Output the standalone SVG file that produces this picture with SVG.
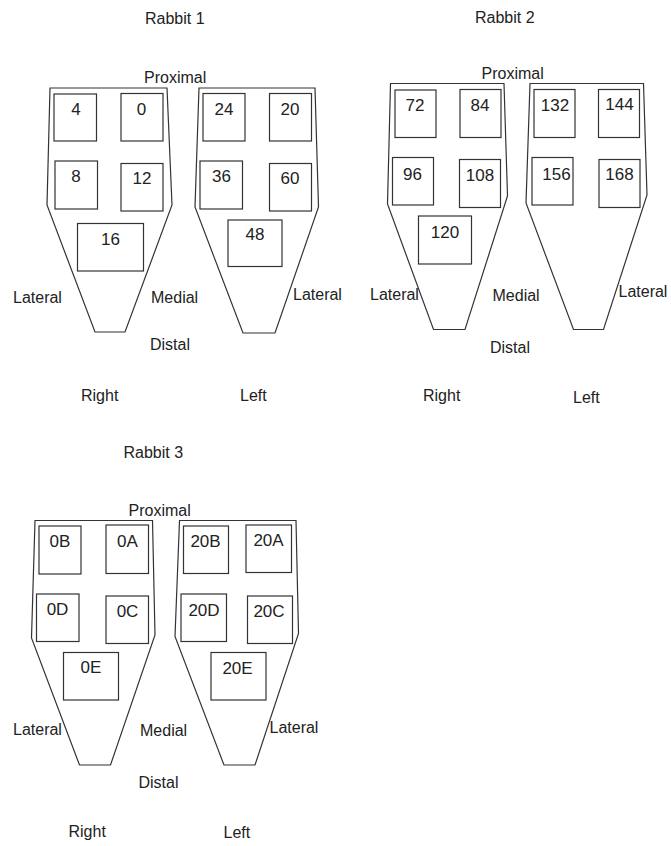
<svg xmlns="http://www.w3.org/2000/svg" width="671" height="846" viewBox="0 0 671 846">
<style>
text{font-family:"Liberation Sans",Arial,sans-serif;font-size:16px;fill:#222}
.n{text-anchor:middle;font-size:17px}
.leg{fill:none;stroke:#333;stroke-width:1.2}
.box{fill:none;stroke:#333;stroke-width:1.2}
</style>
<rect width="671" height="846" fill="#fff"/>
<g id="rabbit1">
<text x="145" y="24">Rabbit 1</text>
<text x="144" y="83">Proximal</text>
<text x="13" y="303">Lateral</text>
<text x="151" y="303">Medial</text>
<text x="293" y="300">Lateral</text>
<text x="150" y="350">Distal</text>
<text x="81" y="401">Right</text>
<text x="240" y="401">Left</text>
<g id="r1-right">
<polygon class="leg" points="50,88 167,88 172,205 125,332 95,332 47,205"/>
<rect class="box" x="54" y="94" width="42.5" height="47"/><text class="n" x="76" y="115">4</text>
<rect class="box" x="121" y="93.5" width="42" height="47.5"/><text class="n" x="141.5" y="115">0</text>
<rect class="box" x="55" y="161" width="42.5" height="48"/><text class="n" x="76" y="181.5">8</text>
<rect class="box" x="121" y="163.5" width="42" height="47.5"/><text class="n" x="142" y="184">12</text>
<rect class="box" x="77.5" y="223.5" width="66" height="47.5"/><text class="n" x="110.5" y="245">16</text>
</g>
<g id="r1-left">
<polygon class="leg" points="199,88 315,88 318.5,207 275,333 243,333 195,207"/>
<rect class="box" x="203" y="93.5" width="42" height="47.5"/><text class="n" x="224" y="115">24</text>
<rect class="box" x="269.5" y="93.5" width="42" height="47.5"/><text class="n" x="290" y="115">20</text>
<rect class="box" x="200" y="161" width="42.5" height="48"/><text class="n" x="221.5" y="181.5">36</text>
<rect class="box" x="269.5" y="163.5" width="42" height="47.5"/><text class="n" x="290" y="184">60</text>
<rect class="box" x="228" y="220" width="54" height="46.5"/><text class="n" x="255" y="240">48</text>
</g>
</g>
<g id="rabbit2">
<text x="475" y="23">Rabbit 2</text>
<text x="481.5" y="78.5">Proximal</text>
<text x="370" y="299.5">Lateral</text>
<text x="492.5" y="300.5">Medial</text>
<text x="618.5" y="296.5">Lateral</text>
<text x="490" y="352.5">Distal</text>
<text x="423" y="401">Right</text>
<text x="573" y="402.5">Left</text>
<g id="r2-right">
<polygon class="leg" points="390.5,83.5 504,83.5 507.5,196 465,329.5 433.5,329.5 387.5,204"/>
<rect class="box" x="395" y="90" width="41" height="47.5"/><text class="n" x="415" y="111">72</text>
<rect class="box" x="460" y="89.5" width="41" height="48"/><text class="n" x="480" y="111">84</text>
<rect class="box" x="392.5" y="157.5" width="41" height="47.5"/><text class="n" x="412.5" y="180">96</text>
<rect class="box" x="459.5" y="159.5" width="41" height="48"/><text class="n" x="480" y="181">108</text>
<rect class="box" x="418.5" y="216" width="53" height="48"/><text class="n" x="445" y="238">120</text>
</g>
<g id="r2-left">
<polygon class="leg" points="530,83.5 643.5,83.5 647,195 603.5,329.5 573.5,329.5 526,203"/>
<rect class="box" x="534" y="89.5" width="41" height="48"/><text class="n" x="555" y="111">132</text>
<rect class="box" x="598.5" y="89.5" width="41" height="48"/><text class="n" x="619.5" y="109.5">144</text>
<rect class="box" x="532" y="157.5" width="41" height="47.5"/><text class="n" x="556.5" y="179.5">156</text>
<rect class="box" x="599" y="159.5" width="41" height="48"/><text class="n" x="619.5" y="180">168</text>
</g>
</g>
<g id="rabbit3">
<text x="123.5" y="458">Rabbit 3</text>
<text x="128.5" y="516">Proximal</text>
<text x="13" y="735">Lateral</text>
<text x="140" y="735.5">Medial</text>
<text x="269.5" y="732.5">Lateral</text>
<text x="138.5" y="788">Distal</text>
<text x="68.5" y="836.5">Right</text>
<text x="223.5" y="838">Left</text>
<g id="r3-right">
<polygon class="leg" points="35,520.5 152.5,520.5 155,635 110.5,765 79.5,765 31.5,638"/>
<rect class="box" x="39" y="526" width="42" height="48"/><text class="n" x="60" y="546.5">0B</text>
<rect class="box" x="106" y="525" width="42.5" height="48.5"/><text class="n" x="127.5" y="546.5">0A</text>
<rect class="box" x="36.5" y="594" width="42.5" height="47.5"/><text class="n" x="57.5" y="615">0D</text>
<rect class="box" x="106" y="596" width="42.5" height="47.5"/><text class="n" x="127.5" y="616.5">0C</text>
<rect class="box" x="63.5" y="652.5" width="55" height="47.5"/><text class="n" x="91" y="673">0E</text>
</g>
<g id="r3-left">
<polygon class="leg" points="179.5,520.5 296,520.5 298.5,633.5 255,765 224,765 175,636.5"/>
<rect class="box" x="183.5" y="526" width="45" height="47.5"/><text class="n" x="205.5" y="546.5">20B</text>
<rect class="box" x="246" y="525" width="45.5" height="47.5"/><text class="n" x="268.5" y="546">20A</text>
<rect class="box" x="181" y="594" width="45.5" height="47.5"/><text class="n" x="204" y="615.5">20D</text>
<rect class="box" x="247.5" y="596" width="45" height="47.5"/><text class="n" x="269" y="616.5">20C</text>
<rect class="box" x="211" y="652.5" width="55" height="47.5"/><text class="n" x="237.5" y="674">20E</text>
</g>
</g>
<g id="connectors"/>
</svg>
